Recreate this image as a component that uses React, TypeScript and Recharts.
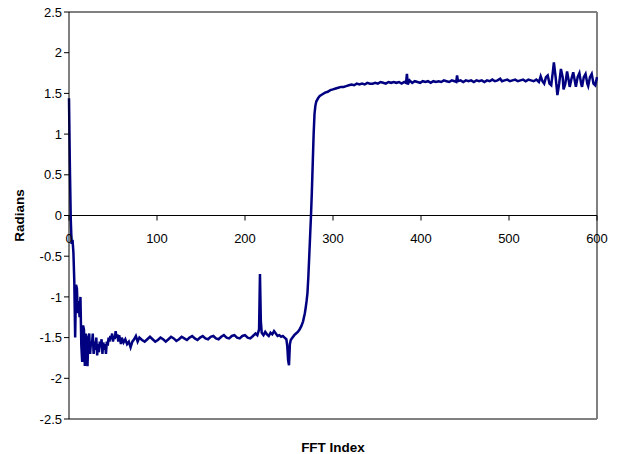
import React from "react";
import { LineChart, Line, XAxis, YAxis, ReferenceLine } from "recharts";

const fftIndex: number[] = [
  0, 1, 2, 3, 4, 5, 6, 7, 8, 9, 10, 11, 12, 13, 14, 15, 16, 17, 18, 19,
  20, 21, 22, 23, 24, 25, 26, 27, 28, 29, 30, 31, 32, 33, 34, 35, 36, 37, 38, 39,
  40, 41, 42, 43, 44, 45, 46, 47, 48, 49, 50, 51, 52, 53, 54, 55, 56, 57, 58, 59,
  60, 62, 64, 66, 68, 70, 72, 74, 76, 78, 80,
  83, 86, 89, 92, 95, 98, 101, 104, 107, 110, 113, 116, 119, 122, 125, 128, 131, 134, 137, 140,
  143, 146, 149, 152, 155, 158, 161, 164, 167, 170, 173, 176, 179, 182, 185, 188, 191, 194, 197, 200,
  203, 206, 209, 212, 214, 216, 217, 218, 219, 221, 223, 225, 227, 229, 231, 233, 235, 237, 239, 241,
  243, 245, 247, 248, 249, 250, 251, 252, 254, 256, 258, 260, 262, 264, 266, 268, 269, 270, 271, 272,
  273, 274, 275, 276, 277, 278, 279, 280, 281, 283, 285, 288, 291, 294, 297, 300, 303, 306, 309, 312,
  315, 318, 321, 324, 327, 330, 333, 336, 339, 342, 345, 348, 351, 354, 357, 360, 363, 366, 369, 372,
  375, 378, 381, 383, 384, 385, 387, 390, 393, 396, 399, 402, 405, 408, 411, 414, 417, 420, 423, 426,
  429, 432, 435, 438, 440, 441, 442, 445, 448, 451, 454, 457, 460, 463, 466, 469, 472, 475, 478, 481,
  484, 487, 490, 492, 495, 498, 501, 504, 507, 510, 513, 516, 519, 522, 525, 528, 531, 534, 536, 538,
  540, 542, 544, 546, 548, 550, 551, 553, 555, 557, 559, 561, 562, 564, 566, 568, 569, 571, 573, 575,
  576, 578, 580, 582, 583, 585, 587, 589, 590, 592, 594, 596, 598, 600,
];

const radians: number[] = [
  1.44, 0.6, -0.05, -0.35, -0.3, -0.45, -0.8, -1.5, -0.85, -0.9, -1.2, -1.05, -1.25, -1.0, -1.6, -1.8, -1.35, -1.4, -1.85, -1.45,
  -1.55, -1.85, -1.5, -1.45, -1.7, -1.55, -1.6, -1.45, -1.7, -1.55, -1.65, -1.5, -1.72, -1.58, -1.68, -1.55, -1.62, -1.52, -1.7, -1.56,
  -1.65, -1.58, -1.7, -1.55, -1.6, -1.5, -1.55, -1.48, -1.52, -1.45, -1.55, -1.48, -1.52, -1.42, -1.5, -1.46, -1.55, -1.47, -1.52, -1.58,
  -1.5, -1.56, -1.52, -1.58, -1.55, -1.62, -1.55, -1.52, -1.48, -1.55, -1.5,
  -1.53, -1.55, -1.52, -1.49, -1.52, -1.55, -1.53, -1.5, -1.52, -1.55, -1.52, -1.49, -1.51, -1.54, -1.52, -1.49, -1.51, -1.53, -1.5, -1.48,
  -1.51, -1.53, -1.5, -1.48, -1.51, -1.52, -1.49, -1.48, -1.51, -1.52, -1.49, -1.47, -1.5, -1.51, -1.48, -1.47, -1.5, -1.51, -1.48, -1.47,
  -1.5, -1.51, -1.48, -1.45, -1.47, -1.4, -0.72, -1.3, -1.44, -1.47, -1.43, -1.46, -1.48, -1.44, -1.46, -1.42, -1.45, -1.48, -1.47, -1.49,
  -1.48, -1.5, -1.52, -1.6, -1.78, -1.84, -1.58, -1.53, -1.5, -1.47, -1.45, -1.43, -1.4, -1.36, -1.3, -1.2, -1.13, -1.05, -0.95, -0.75,
  -0.5, -0.25, 0.0, 0.3, 0.65, 1.0, 1.25, 1.35, 1.4, 1.44, 1.47, 1.49, 1.51, 1.52, 1.54, 1.55, 1.56, 1.57, 1.58, 1.58,
  1.59, 1.6, 1.61, 1.6, 1.62, 1.61, 1.62, 1.61, 1.63, 1.62, 1.62, 1.63, 1.62, 1.64, 1.63, 1.62, 1.64, 1.63, 1.64, 1.63,
  1.64, 1.62, 1.64, 1.63, 1.74, 1.61, 1.66, 1.63, 1.65, 1.64, 1.63, 1.65, 1.64, 1.65, 1.63, 1.65, 1.64, 1.65, 1.64, 1.66,
  1.65, 1.64, 1.66, 1.65, 1.64, 1.72, 1.65, 1.66, 1.64, 1.66, 1.65, 1.66, 1.64, 1.66, 1.65, 1.66, 1.64, 1.66, 1.65, 1.67,
  1.65, 1.66, 1.68, 1.65, 1.66, 1.67, 1.65, 1.66, 1.67, 1.65, 1.66, 1.67, 1.65, 1.67, 1.66, 1.65, 1.67, 1.64, 1.71, 1.65,
  1.62, 1.7, 1.72, 1.62, 1.6, 1.78, 1.88, 1.7, 1.48, 1.62, 1.8, 1.7, 1.55, 1.62, 1.77, 1.65, 1.58, 1.68, 1.76, 1.64,
  1.58, 1.7, 1.75, 1.62, 1.58, 1.7, 1.74, 1.62, 1.59, 1.7, 1.74, 1.62, 1.6, 1.7,
];

const xTicks: number[] = [0, 100, 200, 300, 400, 500, 600];
const yTicks: number[] = [-2.5, -2, -1.5, -1, -0.5, 0, 0.5, 1, 1.5, 2, 2.5];

const data = fftIndex.map((x, i) => ({ x, y: radians[i] }));

const W = 617;
const H = 454;
const M = { top: 12, right: 20, left: 0, bottom: 0 };
const X_AXIS_H = 35;
const Y_AXIS_W = 69;
const PLOT_TOP = M.top;
const PLOT_H = H - M.top - M.bottom - X_AXIS_H;
const Y_MIN = -2.5;
const Y_MAX = 2.5;
const ZERO_Y = PLOT_TOP + (PLOT_H * (Y_MAX - 0)) / (Y_MAX - Y_MIN);

const FONT = "'Liberation Sans', Arial, sans-serif";

const XTick = (props: any) => {
  const { x, payload } = props;
  return (
    <g>
      <line x1={x} x2={x} y1={ZERO_Y} y2={ZERO_Y + 5} stroke="#000" strokeWidth={1} />
      <text x={x} y={ZERO_Y + 27} textAnchor="middle" fontSize={13} fill="#000" fontFamily={FONT}>
        {payload.value}
      </text>
    </g>
  );
};

export default function App() {
  return (
    <div style={{ position: "absolute", left: 0, top: 0, width: W, height: H, background: "#fff" }}>
      <LineChart width={W} height={H} data={data} margin={M} style={{ fontFamily: FONT }}>
        <XAxis
          dataKey="x"
          type="number"
          domain={[0, 600]}
          ticks={xTicks}
          axisLine={false}
          tickLine={false}
          tick={<XTick />}
          height={X_AXIS_H}
          interval={0}
          label={{ value: "FFT Index", position: "insideBottom", offset: 2, fontSize: 13.5, fontWeight: "bold", fill: "#000" }}
        />
        <YAxis
          type="number"
          domain={[Y_MIN, Y_MAX]}
          ticks={yTicks}
          width={Y_AXIS_W}
          interval={0}
          axisLine={{ stroke: "#000", strokeWidth: 1 }}
          tickLine={{ stroke: "#000" }}
          tickSize={5}
          tickMargin={2}
          tick={{ fontSize: 13, fill: "#000" }}
          label={{ value: "Radians", angle: -90, position: "insideLeft", offset: 19, fontSize: 13.5, fontWeight: "bold", fill: "#000", style: { textAnchor: "middle" } }}
        />
        <ReferenceLine y={Y_MAX} stroke="#808080" strokeWidth={2} />
        <ReferenceLine y={Y_MIN} stroke="#808080" strokeWidth={2} />
        <ReferenceLine x={600} stroke="#808080" strokeWidth={2} />
        <ReferenceLine y={0} stroke="#000" strokeWidth={1} />
        <Line
          type="linear"
          dataKey="y"
          stroke="#000080"
          strokeWidth={2.5}
          dot={false}
          isAnimationActive={false}
        />
      </LineChart>
    </div>
  );
}
